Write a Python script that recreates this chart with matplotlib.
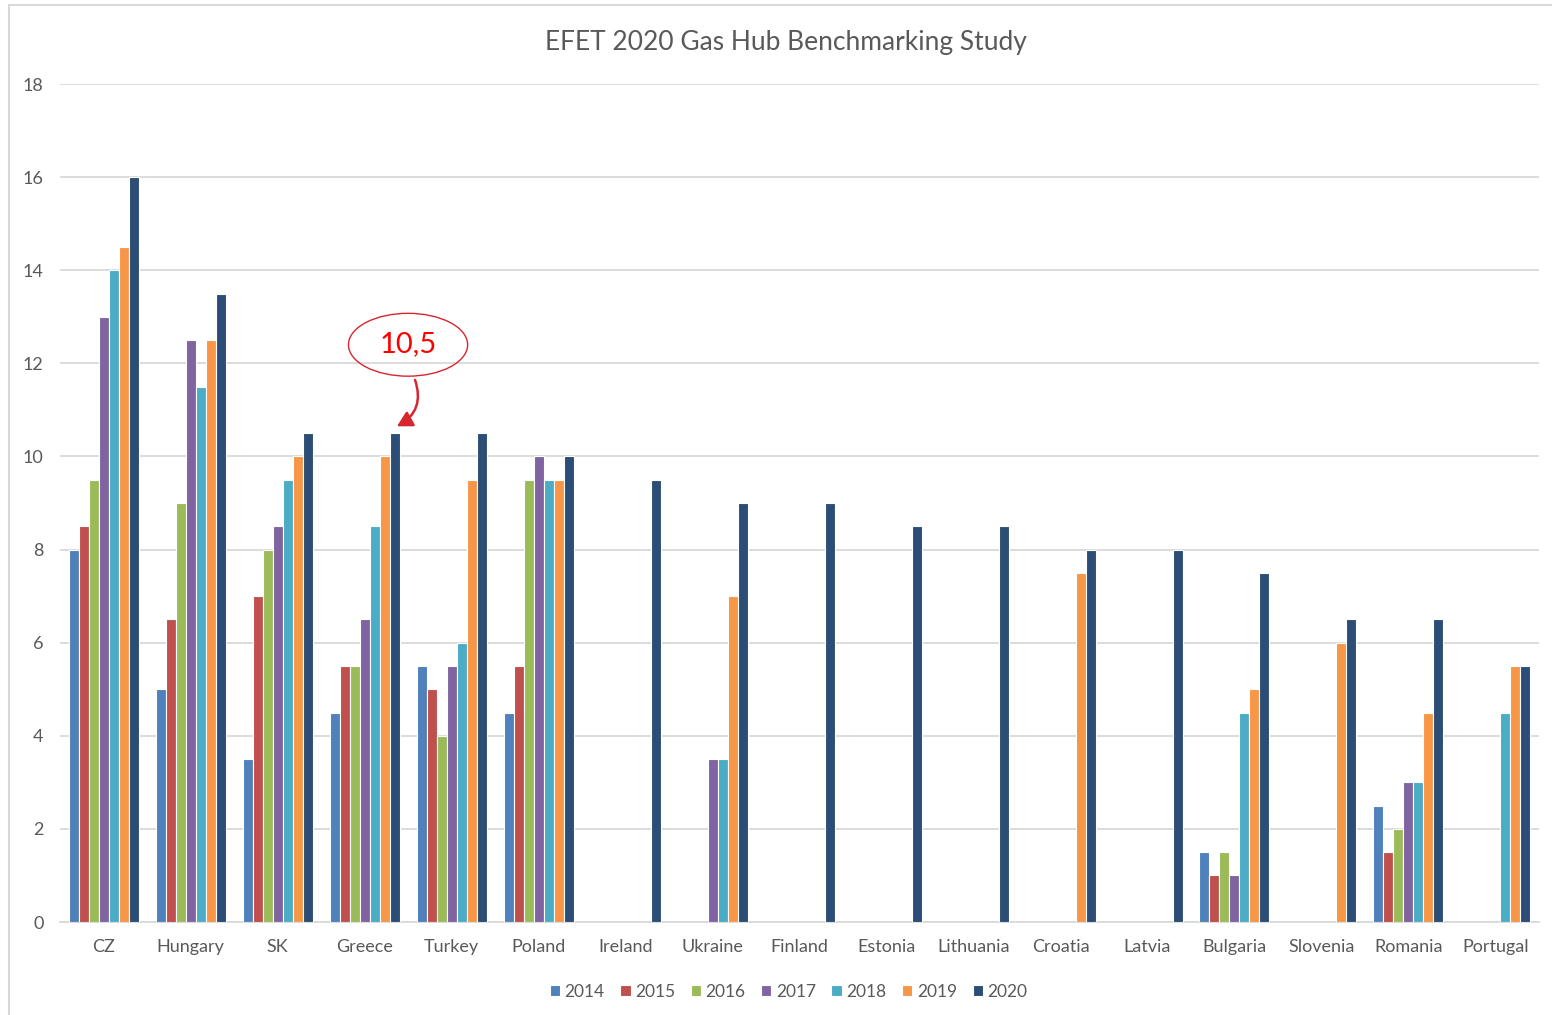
import numpy as np
import matplotlib
matplotlib.use("Agg")
import matplotlib.pyplot as plt
from matplotlib.patches import Ellipse, FancyArrowPatch
from matplotlib.lines import Line2D

plt.rcParams['font.family'] = ['Lato', 'DejaVu Sans']

categories = ["CZ", "Hungary", "SK", "Greece", "Turkey", "Poland", "Ireland", "Ukraine",
              "Finland", "Estonia", "Lithuania", "Croatia", "Latvia", "Bulgaria",
              "Slovenia", "Romania", "Portugal"]
years = ["2014", "2015", "2016", "2017", "2018", "2019", "2020"]
nan = np.nan
v2014 = [8, 5, 3.5, 4.5, 5.5, 4.5, nan, nan, nan, nan, nan, nan, nan, 1.5, nan, 2.5, nan]
v2015 = [8.5, 6.5, 7, 5.5, 5, 5.5, nan, nan, nan, nan, nan, nan, nan, 1, nan, 1.5, nan]
v2016 = [9.5, 9, 8, 5.5, 4, 9.5, nan, nan, nan, nan, nan, nan, nan, 1.5, nan, 2, nan]
v2017 = [13, 12.5, 8.5, 6.5, 5.5, 10, nan, 3.5, nan, nan, nan, nan, nan, 1, nan, 3, nan]
v2018 = [14, 11.5, 9.5, 8.5, 6, 9.5, nan, 3.5, nan, nan, nan, nan, nan, 4.5, nan, 3, 4.5]
v2019 = [14.5, 12.5, 10, 10, 9.5, 9.5, nan, 7, nan, nan, nan, 7.5, nan, 5, 6, 4.5, 5.5]
v2020 = [16, 13.5, 10.5, 10.5, 10.5, 10, 9.5, 9, 9, 8.5, 8.5, 8, 8, 7.5, 6.5, 6.5, 5.5]
series = [v2014, v2015, v2016, v2017, v2018, v2019, v2020]
colors = ["#4F81BD", "#C0504D", "#9BBB59", "#8064A2", "#4BACC6", "#F79646", "#2C4D75"]

fig = plt.figure(figsize=(15.52, 10.15), dpi=100)
ax = fig.add_axes([0.0387, 0.0916, 0.9529, 0.8256])

x = np.arange(len(categories))
bw = 0.115
for i, (vals, c, yr) in enumerate(zip(series, colors, years)):
    ax.bar(x + (i - 3) * bw, vals, width=bw, color=c, edgecolor="white",
           linewidth=0.8, label=yr, zorder=3)

ax.set_xlim(-0.5, len(categories) - 0.5)
ax.set_ylim(0, 18)
ax.set_yticks(np.arange(0, 19, 2))
ax.grid(axis="y", color="#D9D9D9", linewidth=1.3, zorder=0)
for s in ["top", "right", "left"]:
    ax.spines[s].set_visible(False)
ax.spines["bottom"].set_color("#D9D9D9")
ax.spines["bottom"].set_linewidth(1.3)
ax.tick_params(axis="both", length=0, colors="#595959", labelsize=13)
ax.tick_params(axis="y", pad=12)
ax.tick_params(axis="x", pad=12)
ax.set_xticks(x)
ax.set_xticklabels(categories)

fig.text(0.5064, 0.958, "EFET 2020 Gas Hub Benchmarking Study", ha="center", va="center",
         fontsize=19, color="#595959")

leg = ax.legend(loc="upper center", bbox_to_anchor=(0.4925, -0.055), ncol=7, frameon=False,
                fontsize=12.5, handlelength=0.6, handleheight=0.6, handletextpad=0.25,
                columnspacing=0.9, labelcolor="#595959")

# annotation
gi = categories.index("Greece")
ell = Ellipse((gi + 0.5, 12.4), width=1.37, height=1.35, facecolor="none",
              edgecolor="#D7262F", linewidth=1.0, zorder=5)
ax.add_patch(ell)
ax.text(gi + 0.5, 12.42, "10,5", color="#FF0000", fontsize=21, ha="center", va="center", zorder=6)
arr = FancyArrowPatch((gi + 0.57, 11.7), (gi + 3 * bw, 10.62),
                      connectionstyle="arc3,rad=-0.45", arrowstyle="-|>,head_length=9,head_width=5",
                      color="#D7262F", linewidth=1.8, zorder=6)
ax.add_patch(arr)

fig.add_artist(Line2D([0.006, 0.006], [0.0, 0.995], transform=fig.transFigure,
                      color="#D9D9D9", linewidth=1.5))
fig.add_artist(Line2D([0.006, 1.0], [0.995, 0.995], transform=fig.transFigure,
                      color="#D9D9D9", linewidth=1.5))

fig.savefig("out.png", dpi=100)
